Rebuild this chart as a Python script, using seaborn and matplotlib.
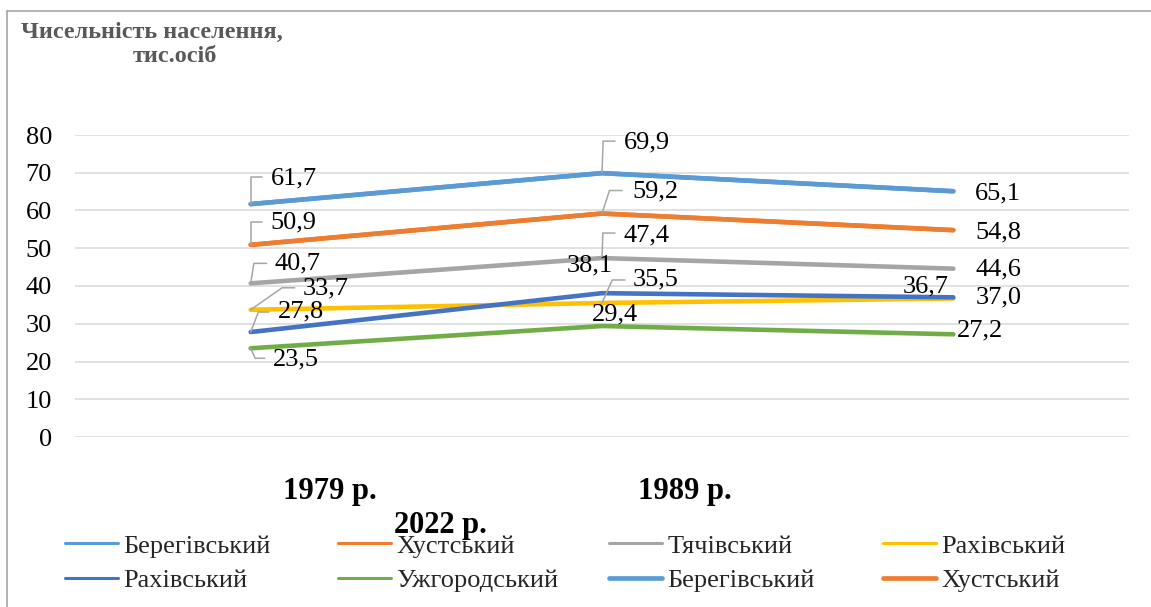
import matplotlib
matplotlib.use("Agg")
import matplotlib.pyplot as plt
import seaborn as sns
import pandas as pd
from matplotlib.lines import Line2D

# ---------------- data ----------------
years = ["1979 р.", "1989 р.", "2022 р."]
series_names = ["Берегівський", "Хустський", "Тячівський", "Рахівський",
                "Рахівський", "Ужгородський", "Берегівський", "Хустський"]
beregivskyi = [61.7, 69.9, 65.1]
khustskyi = [50.9, 59.2, 54.8]
tiachivskyi = [40.7, 47.4, 44.6]
rakhivskyi_a = [33.7, 35.5, 36.7]
rakhivskyi_b = [27.8, 38.1, 37.0]
uzhhorodskyi = [23.5, 29.4, 27.2]
series_values = [beregivskyi, khustskyi, tiachivskyi, rakhivskyi_a,
                 rakhivskyi_b, uzhhorodskyi, beregivskyi, khustskyi]
labelled_series = 6  # data labels shown for the first six series
y_ticks = [0, 10, 20, 30, 40, 50, 60, 70, 80]
title_lines = ["Чисельність населення,", "тис.осіб"]

# ---------------- styles ----------------
colors = ["#5B9BD5", "#ED7D31", "#A5A5A5", "#FFC000",
          "#4472C4", "#70AD47", "#5B9BD5", "#ED7D31"]
legend_lw = [2.2, 2.2, 2.2, 2.2, 2.2, 2.2, 3.4, 3.4]
# label layout per (series, year): text offset px, ha, leader (end offset px, angle)
label_layout = {
    (0, 0): ((20, 26), "left", ((11, 27), 90)),
    (0, 1): ((22, 31), "left", ((13, 32), 88)),
    (0, 2): ((22, -2), "left", None),
    (1, 0): ((20, 22), "left", ((11, 23), 90)),
    (1, 1): ((30, 22), "left", ((20, 23), 72)),
    (1, 2): ((22, -2), "left", None),
    (2, 0): ((24, 20), "left", ((16, 20), 81)),
    (2, 1): ((22, 23), "left", ((13, 25), 88)),
    (2, 2): ((22, -1), "left", None),
    (3, 0): ((52, 21), "left", ((44, 22), 35)),
    (3, 1): ((31, 24), "left", ((23, 23), 66)),
    (3, 2): ((-28, 12), "center", None),
    (4, 0): ((27, 21), "left", ((18, 20), 69)),
    (4, 1): ((-12, 28), "center", None),
    (4, 2): ((22, 0), "left", None),
    (5, 0): ((22, -11), "left", ((14, -10), -66)),
    (5, 1): ((13, 12), "center", None),
    (5, 2): ((27, 4), "center", None),
}
year_label_px = [(330, 492), (685, 492), (440, 525)]
legend_cols_px = [65, 338, 609, 883]

W, H = 1151, 607
sns.set_theme(style="white")
plt.rcParams["font.family"] = ["Liberation Serif", "DejaVu Serif"]

fig = plt.figure(figsize=(W / 100, H / 100), dpi=100)
ax = fig.add_axes([75 / W, (H - 437) / H, 1054 / W, 302 / H])

xs = list(range(len(years)))
for i, (name, vals) in enumerate(zip(series_names, series_values)):
    df = pd.DataFrame({"x": xs, "y": vals})
    sns.lineplot(data=df, x="x", y="y", ax=ax, color=colors[i], linewidth=3.3,
                 solid_capstyle="round", legend=False, zorder=3 + i * 0.01)

ax.set_xlim(-0.5, len(years) - 0.5)
ax.set_ylim(0, 80)
ax.set_yticks(y_ticks)
ax.set_yticklabels([str(t) for t in y_ticks], fontsize=19, color="#000000")
ax.set_xticks([])
ax.set_xlabel("")
ax.set_ylabel("")
ax.tick_params(axis="y", length=0, pad=16.5)
ax.grid(axis="y", color="#D9D9D9", linewidth=1.1)
ax.set_axisbelow(True)
for s in ax.spines.values():
    s.set_visible(False)

# data labels with leader lines
for si in range(labelled_series):
    for yi, v in enumerate(series_values[si]):
        (dx, dy), ha, lead = label_layout[(si, yi)]
        txt = f"{v:.1f}".replace(".", ",")
        ax.annotate(txt, xy=(xs[yi], v), xytext=(dx, dy), textcoords="offset pixels",
                    ha=ha, va="center", fontsize=19, color="#000000", zorder=6)
        if lead is not None:
            (ex, ey), ang = lead
            ax.annotate("", xy=(xs[yi], v), xytext=(ex, ey), textcoords="offset pixels",
                        arrowprops=dict(arrowstyle="-", color="#A6A6A6", lw=1.1,
                                        shrinkA=0, shrinkB=0,
                                        connectionstyle=f"angle,angleA=0,angleB={ang},rad=0"),
                        zorder=5)

# category labels
for lab, (px, py) in zip(years, year_label_px):
    fig.text(px / W, 1 - py / H, lab, ha="center", va="center", fontsize=22,
             fontweight="bold", color="#000000")

# title
fig.text(152 / W, 1 - 32 / H, title_lines[0], ha="center", va="center", fontsize=17.5,
         fontweight="bold", color="#595959")
fig.text(175 / W, 1 - 57 / H, title_lines[1], ha="center", va="center", fontsize=17.5,
         fontweight="bold", color="#595959")

# legend: 4 columns x 2 rows (row-major like the original)
for c, px in enumerate(legend_cols_px):
    idx = [c, c + 4]
    handles = [Line2D([0], [0], color=colors[k], lw=legend_lw[k], solid_capstyle="round")
               for k in idx]
    labels = [series_names[k] for k in idx]
    fig.legend(handles, labels, loc="center left", bbox_to_anchor=(px / W, 1 - 563 / H),
               frameon=False, fontsize=19, handlelength=2.0, handletextpad=0.22,
               labelspacing=0.4, borderpad=0, borderaxespad=0)

# chart border (top and left edges visible)
fig.add_artist(Line2D([7 / W, 7 / W], [0, 1 - 11 / H], color="#A6A6A6", lw=1.2,
                      transform=fig.transFigure))
fig.add_artist(Line2D([7 / W, 1], [1 - 11 / H, 1 - 11 / H], color="#A6A6A6", lw=1.2,
                      transform=fig.transFigure))

fig.savefig("out.png", dpi=100)
